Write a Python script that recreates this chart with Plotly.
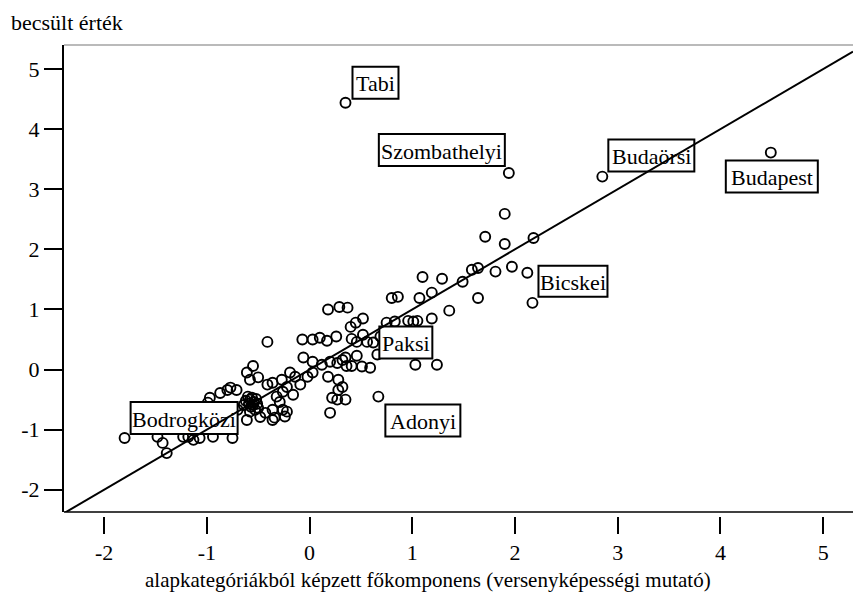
import plotly.graph_objects as go

# ---- data ----
label_names = ["Tabi", "Szombathelyi", "Budaörsi", "Budapest", "Bicskei", "Paksi", "Adonyi", "Bodrogközi"]
label_x = [0.35, 1.94, 2.85, 4.49, 2.17, 0.66, 0.67, -1.80]
label_y = [4.44, 3.27, 3.21, 3.61, 1.11, 0.25, -0.45, -1.14]

x_vals = [1.90, 1.71, 1.90, 2.18, 1.29, 1.49, 1.58, 1.64, 1.81, 1.97, 2.12, 1.64, 1.36, 1.10,
          0.80, 0.86, 1.07, 1.19, 0.18, 0.29, 0.37, 0.52, 0.40, 0.45, 0.75, 0.83, 0.96, 1.01,
          1.05, 1.19, -0.07, 0.03, 0.10, 0.17, 0.26, 0.41, 0.46, 0.52, 0.56, 0.62, 0.69, 1.03,
          1.24, -0.06, 0.03, 0.12, 0.20, 0.27, 0.32, 0.35, 0.36, 0.41, 0.46, 0.51, 0.59, -0.19,
          -0.14, -0.27, -0.22, -0.16, -0.09, -0.02, 0.03, 0.18, 0.28, 0.32, 0.28, 0.22, 0.27,
          0.35, 0.20, -0.26, -0.24, -0.41, -0.55, -0.61, -0.58, -0.50, -0.77, -0.71, -0.80,
          -0.87, -0.97, -0.99, -0.41, -0.36, -0.26, -0.32, -0.29,
          -0.60, -0.58, -0.56, -0.54, -0.52, -0.59, -0.57, -0.55, -0.53, -0.51, -0.62, -0.58,
          -0.64, -0.50, -0.70, -0.43, -0.36, -0.34, -0.22, -0.75, -0.94, -1.07, -1.18, -0.94,
          -0.80, -1.48, -1.43, -1.39, -1.13, -1.23, -0.48, -0.61, -0.36]
y_vals = [2.59, 2.21, 2.09, 2.19, 1.51, 1.46, 1.66, 1.69, 1.63, 1.71, 1.61, 1.19, 0.98, 1.54,
          1.19, 1.21, 1.19, 1.28, 1.00, 1.04, 1.03, 0.85, 0.71, 0.78, 0.78, 0.80, 0.81, 0.80,
          0.81, 0.85, 0.50, 0.50, 0.53, 0.48, 0.55, 0.51, 0.46, 0.58, 0.46, 0.45, 0.55, 0.08,
          0.08, 0.20, 0.13, 0.08, 0.13, 0.11, 0.16, 0.20, 0.06, 0.06, 0.23, 0.05, 0.03, -0.05,
          -0.12, -0.17, -0.29, -0.42, -0.25, -0.12, -0.05, -0.12, -0.17, -0.29, -0.34, -0.47, -0.50,
          -0.50, -0.72, -0.67, -0.78, 0.46, 0.06, -0.05, -0.17, -0.13, -0.30, -0.34, -0.34,
          -0.39, -0.47, -0.55, -0.25, -0.22, -0.37, -0.45, -0.54,
          -0.45, -0.50, -0.47, -0.54, -0.49, -0.57, -0.62, -0.59, -0.67, -0.57, -0.52, -0.70,
          -0.59, -0.64, -0.67, -0.72, -0.67, -0.80, -0.70, -1.14, -1.12, -1.14, -1.12, -0.89,
          -0.84, -1.12, -1.22, -1.39, -1.17, -1.12, -0.79, -0.84, -0.84]

x_tickvals = [-2, -1, 0, 1, 2, 3, 4, 5]
x_ticktext = ["-2", "-1", "0", "1", "2", "3", "4", "5"]
y_tickvals = [-2, -1, 0, 1, 2, 3, 4, 5]
y_ticktext = ["-2", "-1", "0", "1", "2", "3", "4", "5"]

fit_slope = 1.0
fit_intercept = 0.0

x_title = "alapkategóriákból képzett főkomponens (versenyképességi mutató)"
y_title = "becsült érték"

# ---- layout constants ----
X_RANGE = [-2.39, 5.29]
Y_RANGE = [-2.37, 5.40]
FONT = "Liberation Serif"
FS = 22
# label box pixel offsets relative to its point: (dx0, dx1, dy0, dy1), dy up-positive
box_offsets = [
    (7, 53, 4, 36),
    (-130, -4, 7, 39),
    (6, 92, 5, 37),
    (-45, 47, -40, -8),
    (6, 75, 6, 37),
    (2, 55, -4, 28),
    (7, 82, -40, -8),
    (6, 113, 4, 36),
]

fig = go.Figure()
fig.add_trace(go.Scatter(
    x=x_vals + label_x, y=y_vals + label_y, mode="markers",
    marker=dict(symbol="circle-open", size=10, color="black", line=dict(width=1.9, color="black")),
    showlegend=False, hoverinfo="x+y",
))

shapes = []
shapes.append(dict(type="line", xref="x domain", yref="y domain", x0=0, x1=1, y0=1, y1=1,
                   line=dict(color="#777777", width=1.2), layer="above"))
shapes.append(dict(type="line", xref="x domain", yref="y domain", x0=0, x1=1, y0=0, y1=0,
                   line=dict(color="black", width=1.6), layer="above"))
annotations = []
for name, lx, ly, (dx0, dx1, dy0, dy1) in zip(label_names, label_x, label_y, box_offsets):
    shapes.append(dict(type="rect", xref="x", yref="y", xsizemode="pixel", ysizemode="pixel",
                       xanchor=lx, yanchor=ly, x0=dx0, x1=dx1, y0=dy0, y1=dy1,
                       fillcolor="white", line=dict(color="black", width=2), layer="above"))
    annotations.append(dict(x=lx, y=ly, xref="x", yref="y", text=name, showarrow=False,
                            xanchor="center", yanchor="middle",
                            xshift=(dx0 + dx1) / 2, yshift=(dy0 + dy1) / 2 - 1,
                            font=dict(family=FONT, size=FS, color="black")))
shapes.append(dict(type="line", xref="x", yref="y",
                   x0=X_RANGE[0], y0=fit_slope * X_RANGE[0] + fit_intercept,
                   x1=X_RANGE[1], y1=fit_slope * X_RANGE[1] + fit_intercept,
                   line=dict(color="black", width=2), layer="above"))

annotations.append(dict(xref="paper", yref="paper", x=-0.07, y=1.048, text=y_title,
                        showarrow=False, xanchor="left", yanchor="middle",
                        font=dict(family=FONT, size=FS, color="black")))
annotations.append(dict(xref="paper", yref="paper", x=0.461, y=-0.136, text=x_title,
                        showarrow=False, xanchor="center", yanchor="middle",
                        font=dict(family=FONT, size=21, color="black")))

fig.update_layout(
    width=853, height=602,
    margin=dict(l=64, r=0, t=45, b=86, autoexpand=False),
    paper_bgcolor="white", plot_bgcolor="white",
    font=dict(family=FONT, size=FS, color="black"),
    shapes=shapes, annotations=annotations,
    xaxis=dict(range=X_RANGE, anchor="free", position=0, showline=False, showgrid=False,
               automargin=False,
               zeroline=False, ticks="outside", ticklen=17, tickwidth=2, tickcolor="black",
               tickvals=x_tickvals, ticktext=x_ticktext,
               tickfont=dict(family=FONT, size=FS, color="black")),
    yaxis=dict(range=Y_RANGE, domain=[0.0085, 1], showline=True, linewidth=2, linecolor="black",
               automargin=False,
               showgrid=False, zeroline=False, ticks="outside", ticklen=18, tickwidth=2,
               tickcolor="black", tickvals=y_tickvals, ticktext=y_ticktext,
               tickfont=dict(family=FONT, size=FS, color="black")),
)

fig.write_html("out.html", config={"displayModeBar": False},
               post_script="document.body.style.margin='0';document.body.style.overflow='hidden';")
